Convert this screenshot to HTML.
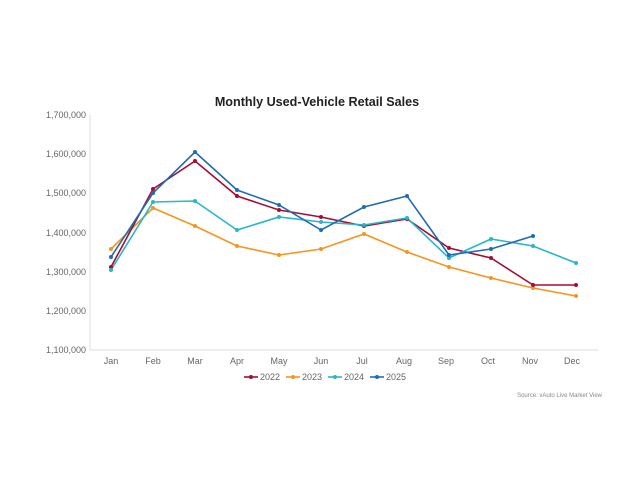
<!DOCTYPE html>
<html><head><meta charset="utf-8"><style>
body{margin:0;background:#fff;}
svg{display:block;font-family:"Liberation Sans",Arial,sans-serif;}
</style></head><body>
<svg width="640" height="491" viewBox="0 0 640 491">
<text x="317" y="106" font-size="12.6" font-weight="bold" fill="#222" text-anchor="middle">Monthly Used-Vehicle Retail Sales</text>
<g font-size="9" fill="#666" text-anchor="end">
<text x="86" y="118">1,700,000</text>
<text x="86" y="157">1,600,000</text>
<text x="86" y="196">1,500,000</text>
<text x="86" y="236">1,400,000</text>
<text x="86" y="275">1,300,000</text>
<text x="86" y="314">1,200,000</text>
<text x="86" y="353">1,100,000</text>
</g>
<line x1="90" y1="115" x2="90" y2="350" stroke="#ddd"/>
<line x1="90" y1="350" x2="598" y2="350" stroke="#ddd"/>
<g font-size="9" fill="#666" text-anchor="middle">
<text x="111" y="364">Jan</text><text x="153" y="364">Feb</text><text x="195" y="364">Mar</text><text x="237" y="364">Apr</text><text x="279" y="364">May</text><text x="321" y="364">Jun</text><text x="362" y="364">Jul</text><text x="404" y="364">Aug</text><text x="446" y="364">Sep</text><text x="488" y="364">Oct</text><text x="530" y="364">Nov</text><text x="572" y="364">Dec</text>
</g>
<g fill="none" stroke-width="1.6">
<polyline stroke="#f7941d" points="111,249 153,208 195,226 237,246 279,255 321,249 364,234 407,252 449,267 491,278 533,288 576,296"/>
<polyline stroke="#a50d35" points="111,267 153,189 195,161 237,196 279,210 321,217 364,226 407,219 449,248 491,258 533,285 576,285"/>
<polyline stroke="#29b6c8" points="111,270 153,202 195,201 237,230 279,217 321,222 364,225 407,218 449,258 491,239 533,246 576,263"/>
<polyline stroke="#1f6cb0" points="111,257 153,193 195,152 237,190 279,205 321,230 364,207 407,196 449,255 491,249 533,236"/>
</g>
<g fill="#f7941d"><circle cx="111" cy="249" r="2"/><circle cx="153" cy="208" r="2"/><circle cx="195" cy="226" r="2"/><circle cx="237" cy="246" r="2"/><circle cx="279" cy="255" r="2"/><circle cx="321" cy="249" r="2"/><circle cx="364" cy="234" r="2"/><circle cx="407" cy="252" r="2"/><circle cx="449" cy="267" r="2"/><circle cx="491" cy="278" r="2"/><circle cx="533" cy="288" r="2"/><circle cx="576" cy="296" r="2"/></g>
<g fill="#a50d35"><circle cx="111" cy="267" r="2"/><circle cx="153" cy="189" r="2"/><circle cx="195" cy="161" r="2"/><circle cx="237" cy="196" r="2"/><circle cx="279" cy="210" r="2"/><circle cx="321" cy="217" r="2"/><circle cx="364" cy="226" r="2"/><circle cx="407" cy="219" r="2"/><circle cx="449" cy="248" r="2"/><circle cx="491" cy="258" r="2"/><circle cx="533" cy="285" r="2"/><circle cx="576" cy="285" r="2"/></g>
<g fill="#29b6c8"><circle cx="111" cy="270" r="2"/><circle cx="153" cy="202" r="2"/><circle cx="195" cy="201" r="2"/><circle cx="237" cy="230" r="2"/><circle cx="279" cy="217" r="2"/><circle cx="321" cy="222" r="2"/><circle cx="364" cy="225" r="2"/><circle cx="407" cy="218" r="2"/><circle cx="449" cy="258" r="2"/><circle cx="491" cy="239" r="2"/><circle cx="533" cy="246" r="2"/><circle cx="576" cy="263" r="2"/></g>
<g fill="#1f6cb0"><circle cx="111" cy="257" r="2"/><circle cx="153" cy="193" r="2"/><circle cx="195" cy="152" r="2"/><circle cx="237" cy="190" r="2"/><circle cx="279" cy="205" r="2"/><circle cx="321" cy="230" r="2"/><circle cx="364" cy="207" r="2"/><circle cx="407" cy="196" r="2"/><circle cx="449" cy="255" r="2"/><circle cx="491" cy="249" r="2"/><circle cx="533" cy="236" r="2"/></g>
<g font-size="9" fill="#666">
<line x1="244" y1="377" x2="258" y2="377" stroke="#a50d35" stroke-width="1.6"/><circle cx="251" cy="377" r="2" fill="#a50d35"/><text x="260" y="380">2022</text>
<line x1="286" y1="377" x2="300" y2="377" stroke="#f7941d" stroke-width="1.6"/><circle cx="293" cy="377" r="2" fill="#f7941d"/><text x="302" y="380">2023</text>
<line x1="328" y1="377" x2="342" y2="377" stroke="#29b6c8" stroke-width="1.6"/><circle cx="335" cy="377" r="2" fill="#29b6c8"/><text x="344" y="380">2024</text>
<line x1="370" y1="377" x2="384" y2="377" stroke="#1f6cb0" stroke-width="1.6"/><circle cx="377" cy="377" r="2" fill="#1f6cb0"/><text x="386" y="380">2025</text>
</g>
<text x="602" y="397" font-size="6" fill="#888" text-anchor="end">Source: vAuto Live Market View</text>
</svg>
</body></html>
